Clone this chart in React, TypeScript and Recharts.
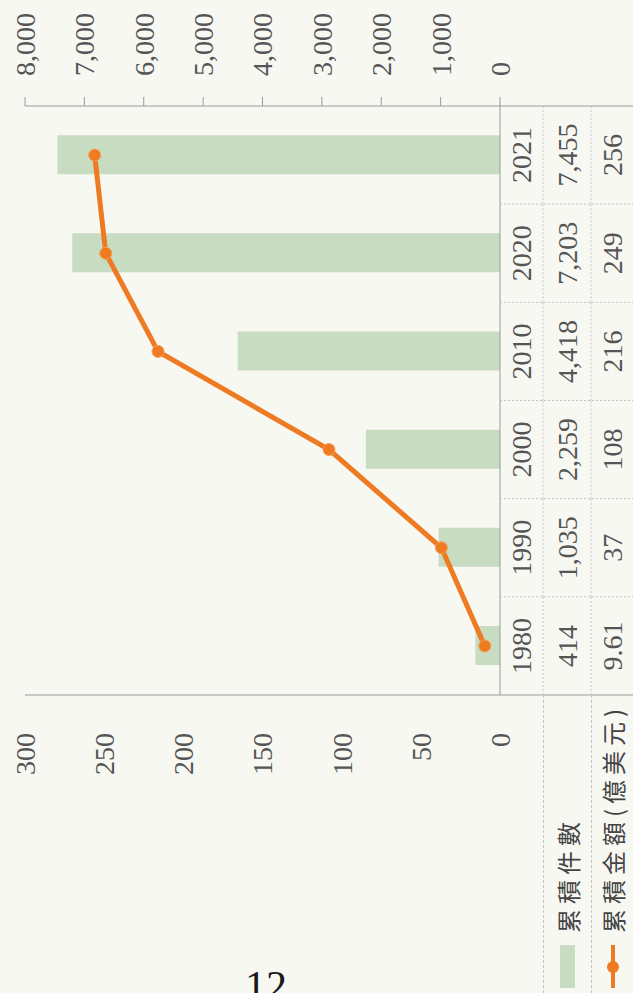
import { ComposedChart, Bar, Line, XAxis, YAxis } from 'recharts';

const years = ['1980', '1990', '2000', '2010', '2020', '2021'];
const caseCounts = [414, 1035, 2259, 4418, 7203, 7455];
const amounts = [9.61, 37, 108, 216, 249, 256];
const amountTicks = [0, 50, 100, 150, 200, 250, 300];
const countTicks = [0, 1000, 2000, 3000, 4000, 5000, 6000, 7000, 8000];
const countLabel = '累積件數';
const amountLabel = '累積金額(億美元)';

const data = years.map((year, i) => ({ year, count: caseCounts[i], amount: amounts[i] }));

// drawn upright, then the whole chart is turned a quarter turn like the scanned page
const W = 993;
const H = 633;
const PLOT_LEFT = 298;
const PLOT_RIGHT = 887;
const PLOT_TOP = 25;
const PLOT_BOTTOM = 500;
const ROW_LINES = [543, 591];
const ROW_TEXT_Y = [521, 567, 612];
const BAND = (PLOT_RIGHT - PLOT_LEFT) / years.length;

const GREEN = '#c7dcc0';
const ORANGE = '#ee7a22';
const TEXT = '#555';
const RULE = '#9a9a9a';
const DOTTED = '#c2c2c2';
const SERIF = '"Liberation Serif", "Times New Roman", serif';
const CJK = '"Noto Sans CJK TC", "Noto Sans CJK SC", sans-serif';

const fmt = (v: number) => v.toLocaleString('en-US');

// table under the x axis: year / count / amount for each category
function TableTick(props: any) {
  const { x, index } = props;
  const left = x - BAND / 2;
  const right = x + BAND / 2;
  const last = index === years.length - 1;
  const cells = [years[index], fmt(caseCounts[index]), String(amounts[index])];
  return (
    <g>
      <line
        x1={left}
        x2={left}
        y1={PLOT_BOTTOM}
        y2={H}
        stroke={index === 0 ? RULE : DOTTED}
        strokeDasharray={index === 0 ? undefined : '2 2'}
      />
      {last && <line x1={right} x2={right} y1={PLOT_BOTTOM} y2={H} stroke={RULE} />}
      {ROW_LINES.map((y) => (
        <line key={y} x1={left} x2={right} y1={y} y2={y} stroke={DOTTED} strokeDasharray="2 2" />
      ))}
      {cells.map((t, r) => (
        <text
          key={r}
          x={x}
          y={ROW_TEXT_Y[r]}
          textAnchor="middle"
          dominantBaseline="central"
          fontSize={28}
          fill={TEXT}
          fontFamily={SERIF}
        >
          {t}
        </text>
      ))}
    </g>
  );
}

function RowLegend() {
  const label = {
    fontFamily: CJK,
    fontSize: 24,
    letterSpacing: 5,
    color: '#444',
    marginLeft: 12,
    whiteSpace: 'nowrap' as const,
  };
  const row = {
    borderTop: `1px dashed ${DOTTED}`,
    display: 'flex',
    alignItems: 'center',
    paddingLeft: 5,
    boxSizing: 'border-box' as const,
    overflow: 'visible',
  };
  return (
    <div style={{ position: 'absolute', left: 0, top: ROW_LINES[0], width: PLOT_LEFT }}>
      <div style={{ ...row, height: ROW_LINES[1] - ROW_LINES[0] }}>
        <div style={{ width: 43, height: 15, background: GREEN, flexShrink: 0 }} />
        <span style={label}>{countLabel}</span>
      </div>
      <div style={{ ...row, height: H - ROW_LINES[1] }}>
        <svg width={43} height={14} style={{ flexShrink: 0 }}>
          <line x1={0} x2={43} y1={7} y2={7} stroke={ORANGE} strokeWidth={4} />
          <circle cx={21} cy={7} r={6} fill={ORANGE} />
        </svg>
        <span style={label}>{amountLabel}</span>
      </div>
    </div>
  );
}

export default function App() {
  const tickStyle = { fontSize: 28, fill: TEXT, fontFamily: SERIF };
  return (
    <div
      style={{
        position: 'absolute',
        left: 0,
        top: 0,
        width: H,
        height: W,
        overflow: 'hidden',
        background: '#f8f8f3',
      }}
    >
      <div
        style={{
          position: 'absolute',
          left: 0,
          top: 0,
          width: W,
          height: H,
          transformOrigin: '0 0',
          transform: `translateY(${W}px) rotate(-90deg)`,
        }}
      >
        <ComposedChart width={W} height={H} data={data} margin={{ top: PLOT_TOP, right: 0, bottom: 0, left: 0 }}>
          <XAxis
            dataKey="year"
            height={H - PLOT_BOTTOM}
            axisLine={{ stroke: RULE }}
            tickLine={false}
            interval={0}
            tick={<TableTick />}
          />
          <YAxis
            yAxisId="amt"
            orientation="left"
            width={PLOT_LEFT}
            domain={[0, 300]}
            ticks={amountTicks}
            tickLine={false}
            tickSize={0}
            tickMargin={38}
            axisLine={{ stroke: RULE }}
            tick={tickStyle}
          />
          <YAxis
            yAxisId="cnt"
            orientation="right"
            width={W - PLOT_RIGHT}
            domain={[0, 8000]}
            ticks={countTicks}
            tickFormatter={fmt}
            tickSize={9}
            tickMargin={21}
            tickLine={{ stroke: RULE }}
            axisLine={{ stroke: RULE }}
            tick={tickStyle}
          />
          <Bar yAxisId="cnt" dataKey="count" barSize={39} fill={GREEN} isAnimationActive={false} />
          <Line
            yAxisId="amt"
            dataKey="amount"
            type="linear"
            stroke={ORANGE}
            strokeWidth={5}
            dot={{ r: 6, fill: ORANGE, stroke: '#f5a25a', strokeWidth: 1 }}
            isAnimationActive={false}
          />
        </ComposedChart>
        <RowLegend />
      </div>
      <div
        style={{
          position: 'absolute',
          left: 245,
          top: 965,
          fontFamily: SERIF,
          fontSize: 42,
          lineHeight: 1,
          color: '#1a1a1a',
        }}
      >
        12
      </div>
    </div>
  );
}
